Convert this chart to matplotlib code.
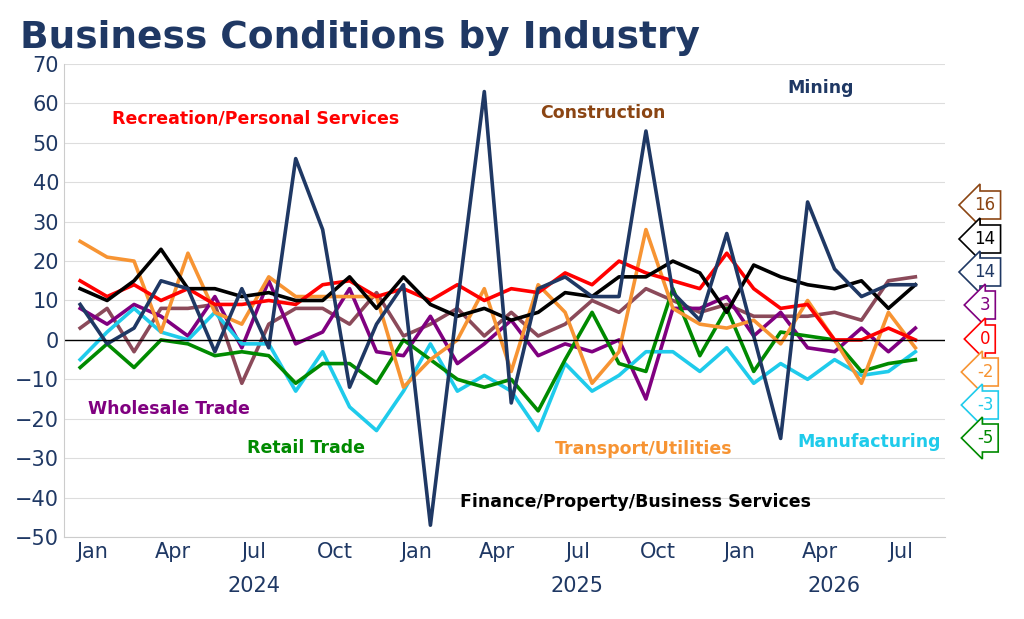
import numpy as np
import matplotlib.pyplot as plt

# monthly readings, Dec 2023 .. Jul 2026
mining   = [9, -1, 3, 15, 13, -3, 13, -2, 46, 28, -12, 4, 14, -47, 9, 63, -16, 13, 16, 11,
            11, 53, 12, 5, 27, 1, -25, 35, 18, 11, 14, 14]
finance  = [13, 10, 15, 23, 13, 13, 11, 12, 10, 10, 16, 8, 16, 9, 6, 8, 5, 7, 12, 11,
            16, 16, 20, 17, 7, 19, 16, 14, 13, 15, 8, 14]
recreat  = [15, 11, 14, 10, 13, 9, 9, 10, 9, 14, 15, 11, 13, 10, 14, 10, 13, 12, 17, 14,
            20, 17, 15, 13, 22, 13, 8, 9, 0, 0, 3, 0]
transp   = [25, 21, 20, 2, 22, 7, 4, 16, 11, 11, 11, 11, -12, -5, 0, 13, -8, 14, 7, -11,
            -3, 28, 8, 4, 3, 5, -1, 10, 0, -11, 7, -2]
wholes   = [8, 4, 9, 6, 1, 11, -2, 15, -1, 2, 13, -3, -4, 6, -6, -1, 5, -4, -1, -3,
            0, -15, 8, 8, 11, 1, 7, -2, -3, 3, -3, 3]
manuf    = [-5, 2, 8, 2, 0, 7, -1, -1, -13, -3, -17, -23, -13, -1, -13, -9, -13, -23, -6, -13,
            -9, -3, -3, -8, -2, -11, -6, -10, -5, -9, -8, -3]
retail   = [-7, -1, -7, 0, -1, -4, -3, -4, -11, -6, -6, -11, 0, -5, -10, -12, -10, -18, -5, 7,
            -6, -8, 13, -4, 8, -8, 2, 1, 0, -8, -6, -5]
constr   = [3, 8, -3, 8, 8, 9, -11, 4, 8, 8, 4, 12, 1, 4, 8, 1, 7, 1, 4, 10,
            7, 13, 10, 7, 9, 6, 6, 6, 7, 5, 15, 16]

months   = ['Jan', 'Apr', 'Jul', 'Oct'] * 2 + ['Jan', 'Apr', 'Jul']
years    = ['2024', '2025', '2026']
last_lab = ['16', '14', '14', '3', '0', '-2', '-3', '-5']

navy   = '#1f3864'
cols   = {'mining': navy, 'finance': 'black', 'recreat': '#ff0000', 'transp': '#f79433',
          'wholes': '#800080', 'manuf': '#1fcbeb', 'retail': '#008a00', 'constr': '#8b4a5a'}

fig = plt.figure(figsize=(10.24, 6.19), dpi=100)
ax = fig.add_axes([64/1024, 82/619, 881/1024, 473/619])
x = np.arange(len(mining))

order = [('constr', constr), ('wholes', wholes), ('manuf', manuf), ('retail', retail),
         ('transp', transp), ('recreat', recreat), ('finance', finance), ('mining', mining)]
for key, vals in order:
    ax.plot(x, vals, color=cols[key], lw=2.6)
ax.axhline(0, color='black', lw=1)

ax.set_ylim(-50, 70)
ax.set_xlim(-0.6, 32.1)
ax.set_yticks(np.arange(-50, 71, 10))
ax.grid(axis='y', color='#dddddd', lw=0.8)
ax.set_axisbelow(True)
ax.set_xticks(0.45 + 3*np.arange(len(months)))
ax.set_xticklabels(months)
ax.tick_params(labelsize=15, colors='#1f3864', length=0)
for s in ['top', 'right']:
    ax.spines[s].set_visible(False)
for s in ['left', 'bottom']:
    ax.spines[s].set_color('#cccccc')
for k, yr in enumerate(years):
    ax.text(6.45 + 12*k if k < 2 else 28.45, -59.5, yr, ha='center', va='top',
            fontsize=15, color=navy) if False else None
ax.text(6.45, -60, years[0], ha='center', va='top', fontsize=15, color=navy)
ax.text(18.45, -60, years[1], ha='center', va='top', fontsize=15, color=navy)
ax.text(28.0, -60, years[2], ha='center', va='top', fontsize=15, color=navy)

lab = dict(fontsize=12.5, fontweight='bold', ha='center', va='center')
ax.text(6.5, 56.3, 'Recreation/Personal Services', color=cols['recreat'], **lab)
ax.text(19.4, 57.6, 'Construction', color='#8b4513', **lab)
ax.text(27.5, 64, 'Mining', color=navy, **lab)
ax.text(3.3, -17.5, 'Wholesale Trade', color=cols['wholes'], **lab)
ax.text(8.4, -27.4, 'Retail Trade', color=cols['retail'], **lab)
ax.text(20.9, -27.7, 'Transport/Utilities', color=cols['transp'], **lab)
ax.text(29.3, -26, 'Manufacturing', color=cols['manuf'], **lab)
ax.text(20.6, -41, 'Finance/Property/Business Services', color='black', **lab)

box_cols = ['#8b4513', 'black', navy, cols['wholes'], cols['recreat'], cols['transp'],
            cols['manuf'], cols['retail']]
ypix = [205, 239, 272, 305, 339, 372, 405, 438]
for t, c, yp in zip(last_lab, box_cols, ypix):
    fig.text(985/1024, 1 - yp/619, t, color=c, fontsize=12, ha='center', va='center',
             bbox=dict(boxstyle='larrow,pad=0.3', fc='white', ec=c, lw=1.2))

fig.text(20/1024, 1 - 38/619, 'Business Conditions by Industry', fontsize=27,
         fontweight='bold', color=navy, va='center')

fig.savefig('out.png', dpi=100)
